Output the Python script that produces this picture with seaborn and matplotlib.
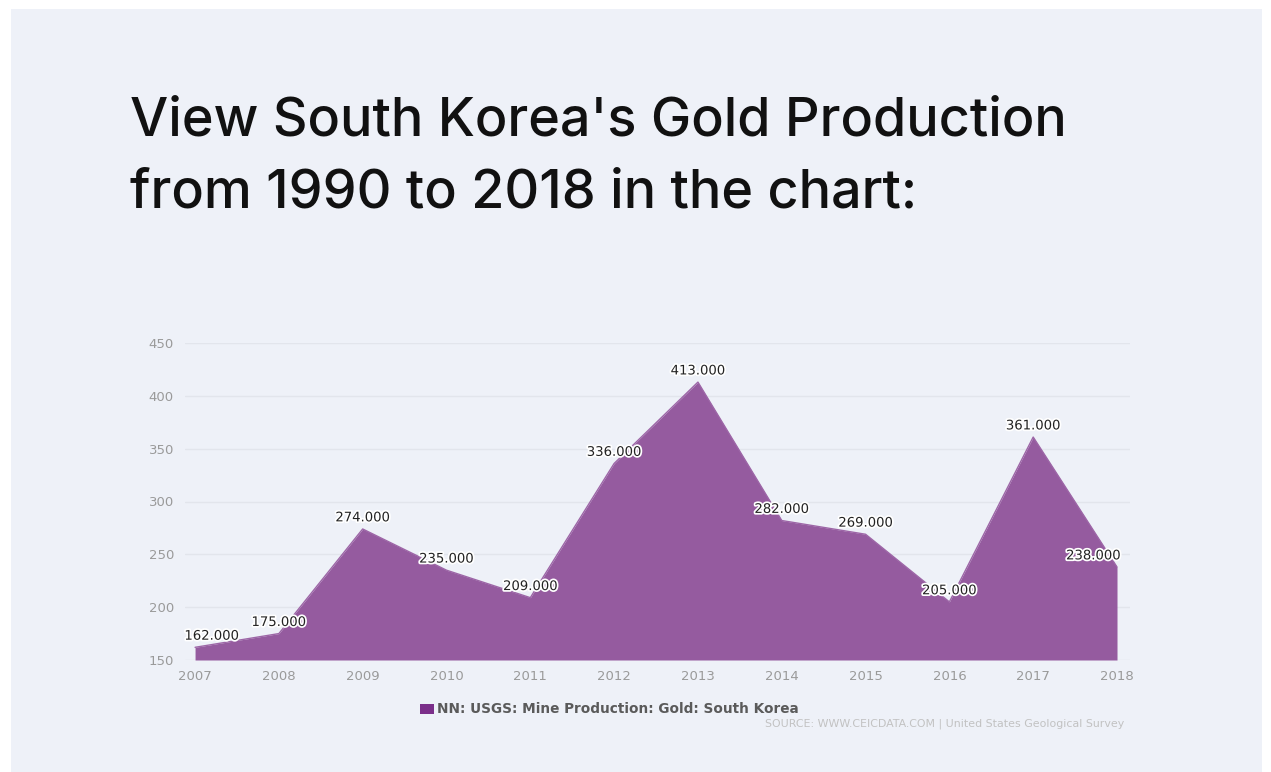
import matplotlib
matplotlib.use("Agg")
import matplotlib.pyplot as plt
import matplotlib.patheffects as pe
from matplotlib.patches import Rectangle
import seaborn as sns
import pandas as pd

years = [2007, 2008, 2009, 2010, 2011, 2012, 2013, 2014, 2015, 2016, 2017, 2018]
values = [162, 175, 274, 235, 209, 336, 413, 282, 269, 205, 361, 238]
yticks = [150, 200, 250, 300, 350, 400, 450]
series_name = "NN: USGS: Mine Production: Gold: South Korea"
title_lines = ["View South Korea's Gold Production", "from 1990 to 2018 in the chart:"]
source_text = "SOURCE: WWW.CEICDATA.COM | United States Geological Survey"

df = pd.DataFrame({"year": years, "value": values})

sns.set_theme(style="white")
plt.rcParams['font.family'] = ['DejaVu Sans']

W, H = 1271, 772
fig = plt.figure(figsize=(W / 100, H / 100), dpi=100)
fig.patch.set_facecolor("white")
bg = "#eef1f8"
fig.patches.append(Rectangle((11 / W, 0), (1262 - 11) / W, (772 - 9) / H,
                             transform=fig.transFigure, facecolor=bg, edgecolor="none",
                             linewidth=0, zorder=-5))

ax = fig.add_axes([185 / W, 1 - 660 / H, (1130 - 185) / W, (660 - 343) / H])
ax.set_facecolor("none")
ax.set_zorder(2)

purple = "#955b9f"
sns.lineplot(data=df, x="year", y="value", ax=ax, color="#9d66a7", linewidth=1.0, zorder=3)
ax.fill_between(df["year"], df["value"], 150, color=purple, linewidth=0, zorder=2)

ax.set_xlim(2007 - 0.12, 2018 + 0.155)
ax.set_ylim(150, 450)
ax.set_yticks(yticks)
ax.set_xticks(years)
ax.set_xticklabels([str(y) for y in years])
ax.grid(axis="y", color="#e2e5ec", linewidth=1.0, zorder=0)
ax.grid(axis="x", visible=False)
ax.set_axisbelow(True)
for s in ax.spines.values():
    s.set_visible(False)
ax.tick_params(axis="both", length=0, labelsize=9.5, labelcolor="#9a9a9a")
ax.tick_params(axis="y", pad=8)
ax.tick_params(axis="x", pad=7)
ax.set_xlabel("")
ax.set_ylabel("")

halo = [pe.withStroke(linewidth=2.5, foreground="white")]
for i, (x, v) in enumerate(zip(years, values)):
    dx = 0
    if i == 0:
        dx = 12
    elif i == len(years) - 1:
        dx = -17
    ax.annotate(f"{v:.3f}", (x, v), xytext=(dx, 8), textcoords="offset points",
                ha="center", va="center", fontsize=9.5, color="#222222",
                path_effects=halo, zorder=5, annotation_clip=False)

renderer = fig.canvas.get_renderer()


def fit_width(t, target_px):
    w = t.get_window_extent(renderer=renderer).width
    t.set_fontsize(t.get_fontsize() * target_px / w)


# title
tfam = ["Inter", "DejaVu Sans"]
t1 = fig.text(130 / W, 1 - 135 / H, title_lines[0], fontsize=34, color="#111111",
              ha="left", va="baseline", family=tfam, fontweight="medium")
fit_width(t1, 938)
t2 = fig.text(130 / W, 1 - 208 / H, title_lines[1], fontsize=t1.get_fontsize(), color="#111111",
              ha="left", va="baseline", family=tfam, fontweight="medium")

# legend
fig.patches.append(Rectangle((420 / W, 1 - 714 / H), 14 / W, 10 / H,
                             transform=fig.transFigure, facecolor="#7b2f8a", edgecolor="none"))
lt = fig.text(437 / W, 1 - 709 / H, series_name, fontsize=9.5, fontweight="bold",
              color="#5a5a5a", ha="left", va="center")
fit_width(lt, 363)

st = fig.text(1124 / W, 1 - 724 / H, source_text, fontsize=7, color="#c2c2c2",
              ha="right", va="center")
fit_width(st, 361)

fig.savefig("out.png", dpi=100, facecolor=fig.get_facecolor())
